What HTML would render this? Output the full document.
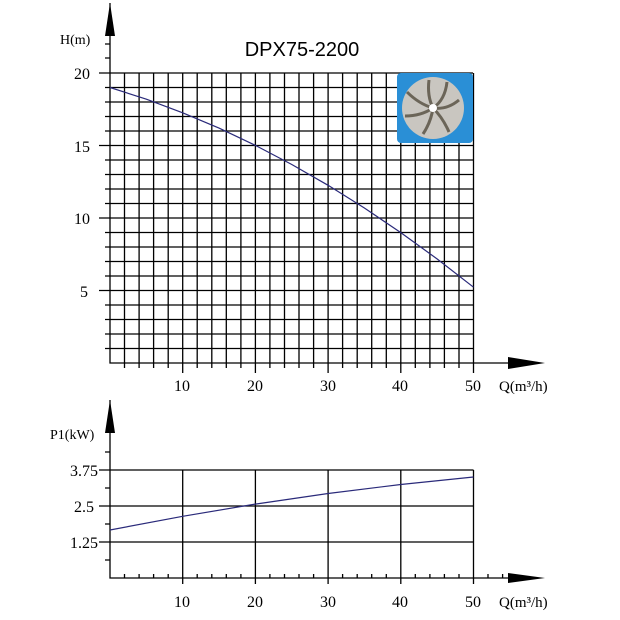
<!DOCTYPE html>
<html><head><meta charset="utf-8"><style>body{margin:0;background:#fff}svg{display:block}</style></head><body>
<svg width="620" height="620" xmlns="http://www.w3.org/2000/svg">
<g stroke="#000" stroke-width="1.3" fill="none">
<path d="M99,73H473M105,87.5H473M105,102H473M105,116.5H473M105,131H473M99,145.5H473M105,160H473M105,174.5H473M105,189H473M105,203.5H473M99,218H473M105,232.5H473M105,247H473M105,261.5H473M105,276H473M99,290.5H473M105,305H473M105,319.5H473M105,334H473M105,348.5H473"/>
<path d="M124.5,73V368M139.1,73V368M153.6,73V368M168.2,73V368M182.7,73V373M197.2,73V368M211.8,73V368M226.3,73V368M240.9,73V368M255.4,73V373M269.9,73V368M284.5,73V368M299,73V368M313.6,73V368M328.1,73V373M342.6,73V368M357.2,73V368M371.7,73V368M386.3,73V368M400.8,73V373M415.3,73V368M429.9,73V368M444.4,73V368M459,73V368M473.5,73V373"/>
<path d="M110,3V363H520M105,44H110M105,58H110"/>
<path d="M110,400V578H520M99,470H473.5M99,506H473.5M99,542H473.5M105,452H110M105,488H110M105,524H110M105,560H110"/>
<path d="M182.7,470V584M255.4,470V584M328.1,470V584M400.8,470V584M473.5,470V584"/>
<path d="M124.5,574V578M139.1,574V578M153.6,574V578M168.2,574V578M197.2,574V578M211.8,574V578M226.3,574V578M240.9,574V578M269.9,574V578M284.5,574V578M299,574V578M313.6,574V578M342.6,574V578M357.2,574V578M371.7,574V578M386.3,574V578M415.3,574V578M429.9,574V578M444.4,574V578M459,574V578M488,574V578M502.6,574V578"/>
</g>
<text x="302" y="56" font-family="Liberation Sans, sans-serif" font-size="20" text-anchor="middle" fill="#000">DPX75-2200</text>
<g font-family="Liberation Serif, serif" font-size="16" fill="#000">
<text x="60" y="44" font-size="14">H(m)</text>
<text x="90" y="79" text-anchor="end">20</text>
<text x="90" y="152" text-anchor="end">15</text>
<text x="90" y="224" text-anchor="end">10</text>
<text x="88" y="297" text-anchor="end">5</text>
<text x="182" y="391" text-anchor="middle">10</text>
<text x="255" y="391" text-anchor="middle">20</text>
<text x="328" y="391" text-anchor="middle">30</text>
<text x="400" y="391" text-anchor="middle">40</text>
<text x="473" y="391" text-anchor="middle">50</text>
<text x="499" y="391" font-size="15">Q(m³/h)</text>
<text x="50" y="439" font-size="14">P1(kW)</text>
<text x="98" y="476" text-anchor="end">3.75</text>
<text x="94" y="512" text-anchor="end">2.5</text>
<text x="98" y="548" text-anchor="end">1.25</text>
<text x="182" y="607" text-anchor="middle">10</text>
<text x="255" y="607" text-anchor="middle">20</text>
<text x="328" y="607" text-anchor="middle">30</text>
<text x="400" y="607" text-anchor="middle">40</text>
<text x="473" y="607" text-anchor="middle">50</text>
<text x="499" y="607" font-size="15">Q(m³/h)</text>
</g>
<polygon points="110,3 105,36 115,36" fill="#000"/>
<polygon points="110,400 105,433 115,433" fill="#000"/>
<polygon points="545,363 508,357 508,369" fill="#000"/>
<polygon points="545,578 508,573 508,583" fill="#000"/>
<rect x="397" y="73" width="76" height="70" rx="4" fill="#2a8fd6"/>
<circle cx="433" cy="108" r="31" fill="#c9c6c0"/>
<g stroke="#6b6558" stroke-width="3" fill="none">
<path d="M433,108 q12,-8 14,-26"/><path d="M433,108 q14,2 26,-8"/><path d="M433,108 q10,10 16,24"/><path d="M433,108 q-2,14 -10,26"/><path d="M433,108 q-12,8 -28,8"/><path d="M433,108 q-14,-4 -26,-16"/><path d="M433,108 q-6,-12 -4,-28"/>
</g>
<circle cx="433" cy="108" r="4" fill="#fff"/>
<polyline fill="none" stroke="#2a2a7a" stroke-width="1.2" points="110,87.5 146.4,99.2 182.7,112.8 219,128.1 255.4,145.4 291.8,164.5 328.1,185.3 364.4,208 400.8,232.6 437.2,259 473.5,287.2"/>
<polyline fill="none" stroke="#2a2a7a" stroke-width="1.2" points="110,530 182.7,516.3 255.4,504.1 328.1,493.5 400.8,484.5 473.5,477"/>
</svg>
</body></html>
